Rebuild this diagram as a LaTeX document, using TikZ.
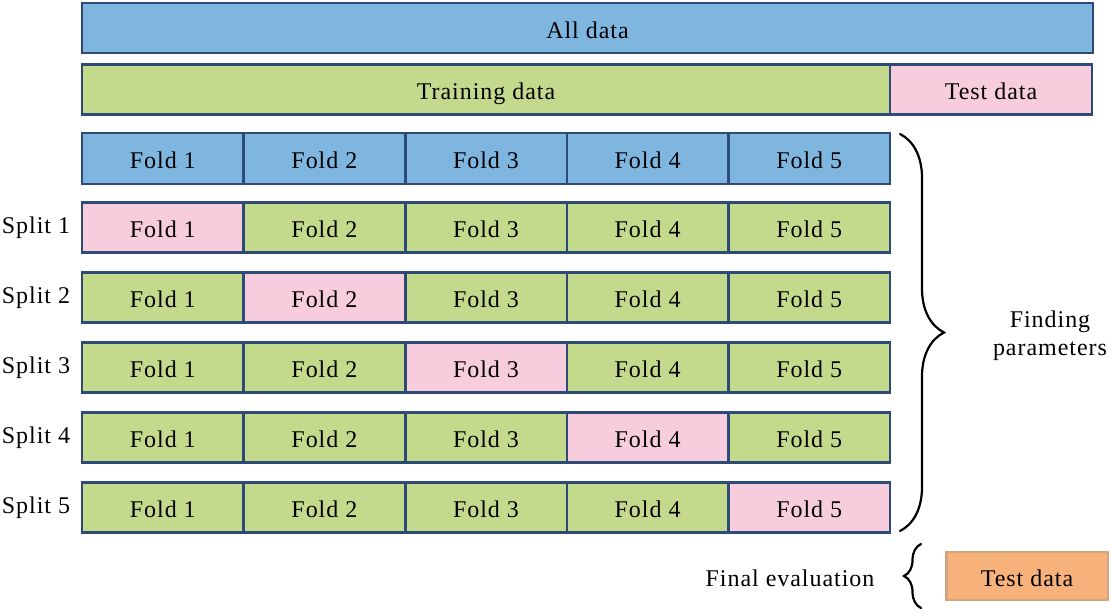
\documentclass[tikz,border=0pt]{standalone}
\usepackage{fontspec}
\setmainfont{Liberation Serif}[LetterSpace=4]
\usetikzlibrary{decorations.pathreplacing}
\definecolor{foldblue}{HTML}{7EB6E0}
\definecolor{foldgreen}{HTML}{C3DA8D}
\definecolor{foldpink}{HTML}{F7CCDC}
\definecolor{testorange}{HTML}{F7B27B}
\definecolor{edgeblue}{HTML}{2E4A76}
\begin{document}
\begin{tikzpicture}[x=0.5pt,y=-0.5pt,font=\fontsize{12}{14}\selectfont]
\tikzstyle{fold}=[draw=edgeblue,line width=1.3pt,minimum width=80.8pt,minimum height=25pt,inner sep=0pt,text height=2.5ex,text depth=.3ex]
\tikzstyle{bluefold}=[fold,fill=foldblue]
\tikzstyle{greenfold}=[fold,fill=foldgreen]
\tikzstyle{pinkfold}=[fold,fill=foldpink]
\tikzstyle{curly}=[decorate,line width=1.1pt,line cap=round]

\useasboundingbox (0,0) rectangle (1112,614);

\node[bluefold,minimum width=505.5pt] (all) at (587.5,28) {All data};
\node[greenfold,minimum width=404pt] (train) at (486,89.5) {Training data};
\node[pinkfold,minimum width=101pt] (test) at (991,89.5) {Test data};

% header row
\foreach \i in {1,...,5}
  \node[bluefold,minimum height=25.5pt] (h\i) at ({82+161.6*(\i-0.5)},158.5) {Fold \i};

% one row per split, the held-out fold in pink
\foreach \s in {1,...,5} {
  \node (s\s) at (36,{227.5+70*(\s-1)}) {Split \s};
  \foreach \i in {1,...,5} {
    \ifnum\i=\s \def\look{pinkfold}\else\def\look{greenfold}\fi
    \node[\look] (f\s\i) at ({82+161.6*(\i-0.5)},{227.5+70*(\s-1)}) {Fold \i};
  }
}

\coordinate (bt) at (900,134);
\coordinate (bb) at (900,531);
\draw[curly,decoration={brace,amplitude=22pt}] (bt) -- (bb);
\node[align=center] (find) at (1050,336) {Finding\\parameters};

\coordinate (et) at (921,544);
\coordinate (eb) at (921,608);
\draw[curly,decoration={brace,amplitude=8.5pt}] (eb) -- (et);
\node (final) at (790,578) {Final evaluation};
\node[fold,draw=testorange!70!gray,fill=testorange,minimum height=24pt] (evaltest) at (1027,576) {Test data};
\end{tikzpicture}
\end{document}
